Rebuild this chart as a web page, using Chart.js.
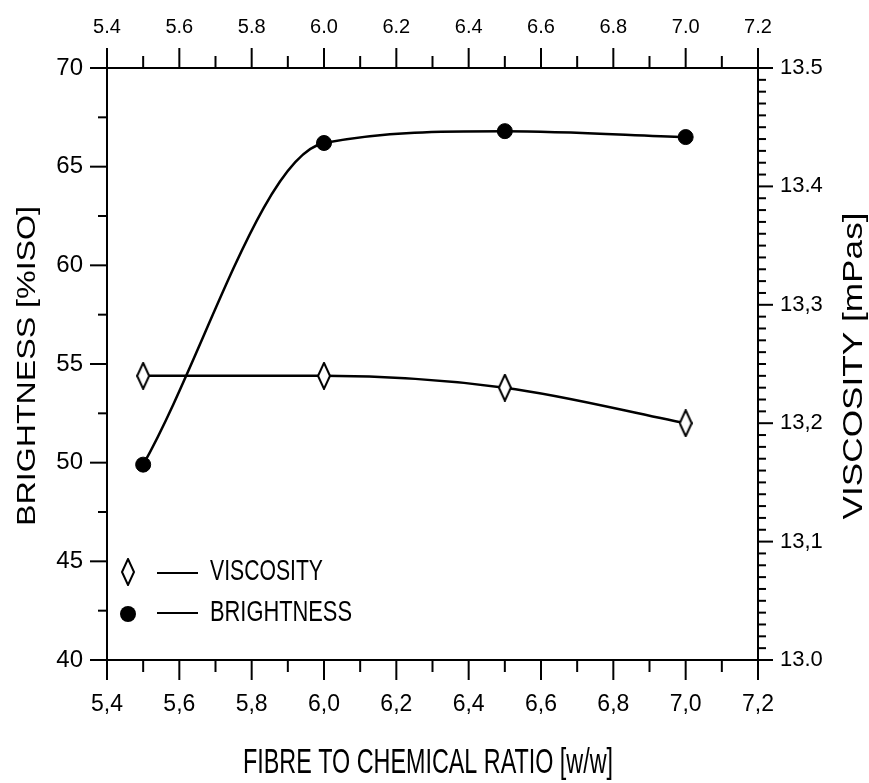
<!DOCTYPE html>
<html>
<head>
<meta charset="utf-8">
<script src="https://cdn.jsdelivr.net/npm/chart.js@4/dist/chart.umd.min.js"></script>
<style>
  html, body { margin: 0; padding: 0; background: #fff; }
</style>
</head>
<body>
<canvas id="chart" width="869" height="783"></canvas>
<script>
const ratios = [5.5, 6.0, 6.5, 7.0];
const brightness = [49.9, 66.2, 66.8, 66.5];
const viscosity = [13.24, 13.24, 13.23, 13.20];

const topTickLabels = ['5.4', '5.6', '5.8', '6.0', '6.2', '6.4', '6.6', '6.8', '7.0', '7.2'];
const bottomTickLabels = ['5,4', '5,6', '5,8', '6,0', '6,2', '6,4', '6,6', '6,8', '7,0', '7,2'];
const leftTickLabels = ['40', '45', '50', '55', '60', '65', '70'];
const rightTickLabels = ['13.0', '13,1', '13,2', '13,3', '13.4', '13.5'];

const seriesNames = ['VISCOSITY', 'BRIGHTNESS'];
const axisTitles = {
  x: 'FIBRE TO CHEMICAL RATIO [w/w]',
  y: 'BRIGHTNESS [%ISO]',
  y2: 'VISCOSITY [mPas]',
};

const FONT = '"Liberation Sans", Arial, sans-serif';
const ink = '#000';

// tall, narrow open diamond used for viscosity points
const diamond = document.createElement('canvas');
diamond.width = 14;
diamond.height = 28;
(() => {
  const c = diamond.getContext('2d');
  c.beginPath();
  c.moveTo(7, 1); c.lineTo(13, 14); c.lineTo(7, 27); c.lineTo(1, 14); c.closePath();
  c.fillStyle = '#fff';
  c.fill();
  c.lineWidth = 2;
  c.strokeStyle = ink;
  c.stroke();
})();

// squeeze or stretch a string to a given width (the scan uses odd typefaces)
function fitText(ctx, text, cx, cy, width, size, angle) {
  ctx.save();
  ctx.font = `${size}px ${FONT}`;
  const w = ctx.measureText(text).width;
  ctx.translate(cx, cy);
  ctx.rotate(angle || 0);
  ctx.scale(width / w, 1);
  ctx.textAlign = 'center';
  ctx.textBaseline = 'middle';
  ctx.fillStyle = ink;
  ctx.fillText(text, 0, 0);
  ctx.restore();
}

function tickMark(ctx, x1, y1, x2, y2) {
  ctx.beginPath();
  ctx.moveTo(x1, y1);
  ctx.lineTo(x2, y2);
  ctx.stroke();
}

// major + minor tick marks on all four sides, pointing outwards
const tickPlugin = {
  id: 'tickMarks',
  afterDraw(chart) {
    const { ctx, chartArea: a, scales } = chart;
    ctx.save();
    ctx.strokeStyle = ink;
    ctx.lineWidth = 2;
    for (let i = 0; i <= 18; i++) {
      const v = 5.4 + i * 0.1;
      const len = i % 2 === 0 ? 20 : 12;
      const xb = scales.x.getPixelForValue(v);
      const xt = scales.xTop.getPixelForValue(v);
      tickMark(ctx, xb, a.bottom, xb, a.bottom + len);
      tickMark(ctx, xt, a.top, xt, a.top - len);
    }
    for (let i = 0; i <= 12; i++) {
      const py = scales.y.getPixelForValue(40 + i * 2.5);
      tickMark(ctx, a.left, py, a.left - (i % 2 === 0 ? 17 : 9), py);
    }
    for (let i = 0; i <= 50; i++) {
      const py = scales.y2.getPixelForValue(13 + i * 0.01);
      tickMark(ctx, a.right, py, a.right + (i % 10 === 0 ? 15 : 8), py);
    }
    ctx.restore();
  },
};

// axis titles and the box-less legend in the lower left of the plot
const labelPlugin = {
  id: 'labels',
  afterDraw(chart) {
    const { ctx } = chart;
    fitText(ctx, axisTitles.y, 28, 366, 320, 25, -Math.PI / 2);
    fitText(ctx, axisTitles.y2, 855, 366, 307, 27, -Math.PI / 2);
    fitText(ctx, axisTitles.x, 428, 763, 370, 35);

    ctx.save();
    ctx.strokeStyle = ink;
    ctx.lineWidth = 2;
    ctx.drawImage(diamond, 128 - 7, 572 - 14);
    tickMark(ctx, 157, 573, 198, 573);
    ctx.beginPath();
    ctx.arc(128, 614, 8, 0, Math.PI * 2);
    ctx.fillStyle = ink;
    ctx.fill();
    tickMark(ctx, 157, 613, 198, 613);
    ctx.restore();
    fitText(ctx, seriesNames[0], 210 + 113 / 2, 572, 113, 30);
    fitText(ctx, seriesNames[1], 210 + 142 / 2, 613, 142, 30);
  },
};

const noGrid = { display: false, drawTicks: false };
const axisBorder = { display: true, color: ink, width: 2 };

new Chart(document.getElementById('chart'), {
  type: 'line',
  data: {
    datasets: [
      {
        label: seriesNames[1],
        data: ratios.map((r, i) => ({ x: r, y: brightness[i] })),
        yAxisID: 'y',
        borderColor: ink,
        borderWidth: 2.5,
        cubicInterpolationMode: 'monotone',
        pointStyle: 'circle',
        pointRadius: 7.5,
        pointBackgroundColor: ink,
        pointBorderColor: ink,
        pointBorderWidth: 1,
      },
      {
        label: seriesNames[0],
        data: ratios.map((r, i) => ({ x: r, y: viscosity[i] })),
        yAxisID: 'y2',
        borderColor: ink,
        borderWidth: 2.5,
        cubicInterpolationMode: 'monotone',
        pointStyle: diamond,
        pointRadius: 10,
      },
    ],
  },
  options: {
    responsive: false,
    animation: false,
    devicePixelRatio: 1,
    layout: { padding: 0 },
    plugins: { legend: { display: false }, tooltip: { enabled: false } },
    scales: {
      x: {
        type: 'linear',
        position: 'bottom',
        min: 5.4,
        max: 7.2,
        grid: noGrid,
        border: axisBorder,
        ticks: {
          stepSize: 0.2,
          autoSkip: false,
          maxRotation: 0,
          padding: 31,
          color: ink,
          font: { family: FONT, size: 23 },
          callback: (v, i) => bottomTickLabels[i],
        },
        afterFit: (s) => { s.height = 123; },
      },
      xTop: {
        type: 'linear',
        axis: 'x',
        position: 'top',
        min: 5.4,
        max: 7.2,
        grid: noGrid,
        border: axisBorder,
        ticks: {
          stepSize: 0.2,
          autoSkip: false,
          maxRotation: 0,
          padding: 29,
          color: ink,
          font: { family: FONT, size: 20 },
          callback: (v, i) => topTickLabels[i],
        },
        afterFit: (s) => { s.height = 68; },
      },
      y: {
        type: 'linear',
        position: 'left',
        min: 40,
        max: 70,
        grid: noGrid,
        border: axisBorder,
        ticks: {
          stepSize: 5,
          padding: 24,
          color: ink,
          font: { family: FONT, size: 24 },
          callback: (v, i) => leftTickLabels[i],
        },
        afterFit: (s) => { s.width = 107; },
      },
      y2: {
        type: 'linear',
        position: 'right',
        min: 13.0,
        max: 13.5,
        grid: noGrid,
        border: axisBorder,
        ticks: {
          stepSize: 0.1,
          padding: 22,
          color: ink,
          font: { family: FONT, size: 22 },
          callback: (v, i) => rightTickLabels[i],
        },
        afterFit: (s) => { s.width = 111; },
      },
    },
  },
  plugins: [tickPlugin, labelPlugin],
});
</script>
</body>
</html>
